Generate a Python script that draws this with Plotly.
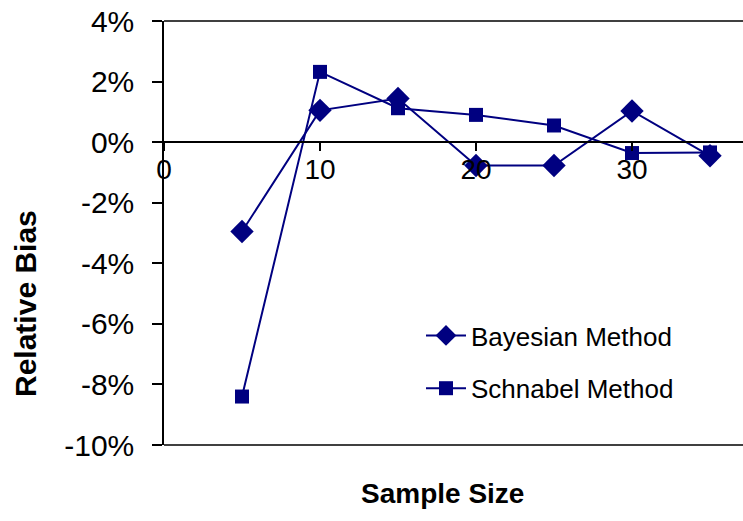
import plotly.graph_objects as go

sample_size = [5, 10, 15, 20, 25, 30, 35]
bayesian = [-0.0295, 0.0105, 0.0144, -0.0077, -0.0077, 0.0103, -0.0045]
schnabel = [-0.084, 0.0232, 0.0112, 0.0090, 0.0055, -0.0036, -0.0034]
y_tickvals = [0.04, 0.02, 0.0, -0.02, -0.04, -0.06, -0.08, -0.10]
y_ticktext = ["4%", "2%", "0%", "-2%", "-4%", "-6%", "-8%", "-10%"]
x_tickvals = [0, 10, 20, 30]

NAVY = "#000080"
FONT = "Liberation Sans, Arial, sans-serif"

L, R, T, B = 164, 0, 21, 76
W, H = 743, 521
PW, PH = W - L - R, H - T - B


def px_x(x):
    return (x - L) / PW


def px_y(y):
    return (H - B - y) / PH


fig = go.Figure()
fig.add_trace(go.Scatter(
    x=sample_size, y=bayesian, name="Bayesian Method", mode="lines+markers",
    legendgroup="b",
    line=dict(color=NAVY, width=2),
    marker=dict(symbol="diamond", size=18, color=NAVY),
))
fig.add_trace(go.Scatter(
    x=sample_size, y=schnabel, name="Schnabel Method", mode="lines+markers",
    legendgroup="s",
    line=dict(color=NAVY, width=2),
    marker=dict(symbol="square", size=14, color=NAVY),
))

fig.update_layout(
    width=W, height=H,
    margin=dict(l=L, r=R, t=T, b=B),
    paper_bgcolor="white", plot_bgcolor="white",
    font=dict(family=FONT, color="black"),
    showlegend=True,
    legend=dict(
        x=px_x(421), y=px_y(312), xanchor="left", yanchor="top",
        font=dict(size=26, family=FONT, color="black"),
        bgcolor="rgba(0,0,0,0)", tracegroupgap=16, itemwidth=40,
        traceorder="grouped",
    ),
    xaxis=dict(
        range=[0, PW / 15.6], tickvals=x_tickvals,
        anchor="free", position=10 / 14,
        showline=True, linecolor="black", linewidth=1.5,
        ticks="outside", ticklen=8, tickwidth=1.5, tickcolor="black",
        ticklabelstandoff=-5,
        showgrid=False, zeroline=False,
        tickfont=dict(size=28, family=FONT, color="black"),
    ),
    yaxis=dict(
        range=[-0.10, 0.04], tickvals=y_tickvals, ticktext=y_ticktext,
        domain=[0, 1],
        showline=True, linecolor="black", linewidth=1.5,
        ticks="outside", ticklen=10, tickwidth=1.5, tickcolor="black",
        ticklabelstandoff=12,
        showgrid=False, zeroline=False,
        tickfont=dict(size=30, family=FONT, color="black"),
    ),
    shapes=[
        dict(type="line", xref="paper", yref="paper", x0=0, x1=1, y0=1, y1=1,
             line=dict(color="black", width=1.5)),
        dict(type="line", xref="paper", yref="paper", x0=0, x1=1, y0=0, y1=0,
             line=dict(color="black", width=1.5)),
    ],
    annotations=[
        dict(text="<b>Sample Size</b>", xref="paper", yref="paper", x=px_x(442),
             y=px_y(493), xanchor="center", yanchor="middle", showarrow=False,
             font=dict(size=28, family=FONT, color="black")),
        dict(text="<b>Relative Bias</b>", xref="paper", yref="paper", x=px_x(25),
             y=px_y(304), xanchor="center", yanchor="middle", showarrow=False,
             textangle=-90,
             font=dict(size=30, family=FONT, color="black")),
    ],
)

fig.write_html("out.html")
